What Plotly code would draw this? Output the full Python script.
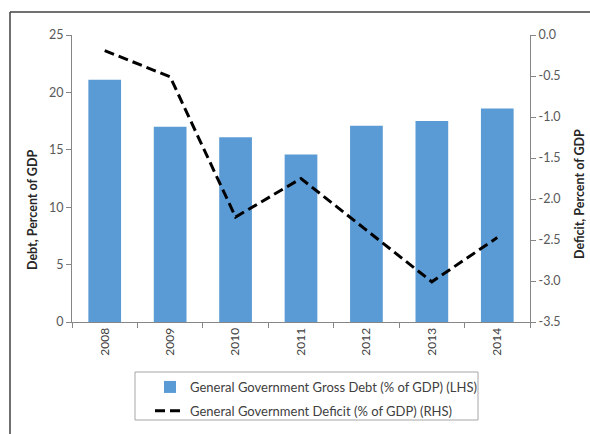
import plotly.graph_objects as go

years = ["2008", "2009", "2010", "2011", "2012", "2013", "2014"]
debt = [21.1, 17.0, 16.1, 14.6, 17.1, 17.5, 18.6]
deficit = [-0.19, -0.51, -2.22, -1.75, -2.38, -3.01, -2.47]
left_ticks = [0, 5, 10, 15, 20, 25]
right_tickvals = [0.0, -0.5, -1.0, -1.5, -2.0, -2.5, -3.0, -3.5]
right_ticktext = ["0.0", "-0.5", "-1.0", "-1.5", "-2.0", "-2.5", "-3.0", "-3.5"]

debt_name = "General Government Gross Debt (% of GDP) (LHS)"
deficit_name = "General Government Deficit (% of GDP) (RHS)"

W, H = 590, 434
L, R, T, B = 72, 60, 35, 112
pw, ph = W - L - R, H - T - B

def px_x(x):
    return (x - L) / pw

def px_y(y):
    return (H - B - y) / ph

fig = go.Figure()
fig.add_trace(go.Bar(x=years, y=debt, name=debt_name, marker_color="#5B9BD5",
                     marker_line_width=0, yaxis="y", legendgroup="a"))
fig.add_trace(go.Scatter(x=years, y=deficit, name=deficit_name, mode="lines",
                         line=dict(color="black", width=3, dash="10px,5px"), yaxis="y2",
                         legendgroup="b"))

font_fam = "Lato, 'Open Sans', sans-serif"
axcol = "#868686"
txtcol = "#595959"

fig.update_layout(
    width=W, height=H,
    margin=dict(l=L, r=R, t=T, b=B, autoexpand=False),
    paper_bgcolor="white", plot_bgcolor="white",
    font=dict(family=font_fam, size=11, color=txtcol),
    bargap=0.5,
    showlegend=True,
    legend=dict(x=px_x(150), y=px_y(372), xanchor="left", yanchor="top",
                bgcolor="rgba(0,0,0,0)", borderwidth=0,
                font=dict(size=13, color="#404040"), tracegroupgap=4),
    xaxis=dict(type="category", showline=True, linecolor=axcol, linewidth=1,
               ticks="outside", tickson="boundaries", ticklen=5, tickcolor=axcol,
               tickangle=-90, tickfont=dict(size=12, color="#404040"),
               showgrid=False, zeroline=False),
    yaxis=dict(range=[0, 25], tickvals=left_ticks, showline=True, linecolor=axcol, linewidth=1,
               ticks="outside", ticklen=5, tickcolor=axcol, showgrid=False, zeroline=False,
               tickfont=dict(size=12.5, color=txtcol)),
    yaxis2=dict(range=[-3.5, 0], tickvals=right_tickvals, ticktext=right_ticktext,
                overlaying="y", side="right",
                showline=True, linecolor=axcol, linewidth=1, ticks="outside", ticklen=5,
                tickcolor=axcol, showgrid=False, zeroline=False,
                tickfont=dict(size=12.5, color=txtcol)),
    shapes=[
        dict(type="line", xref="paper", yref="paper", x0=px_x(10), x1=px_x(10),
             y0=px_y(12), y1=px_y(434), line=dict(color="#404040", width=1.5)),
        dict(type="line", xref="paper", yref="paper", x0=px_x(10), x1=px_x(590),
             y0=px_y(12), y1=px_y(12), line=dict(color="#404040", width=1.5)),
        dict(type="rect", xref="paper", yref="paper", x0=px_x(135), x1=px_x(478),
             y0=px_y(372), y1=px_y(420), line=dict(color="#A6A6A6", width=1)),
    ],
    annotations=[
        dict(text="<b>Debt, Percent of GDP</b>", textangle=-90, xref="paper", yref="paper",
             x=px_x(32), y=px_y(210), xanchor="center", yanchor="middle", showarrow=False,
             font=dict(size=12.5, color="#262626")),
        dict(text="<b>Deficit, Percent of GDP</b>", textangle=-90, xref="paper", yref="paper",
             x=px_x(579), y=px_y(194), xanchor="center", yanchor="middle", showarrow=False,
             font=dict(size=12.5, color="#262626")),
    ],
)

fig.write_html("out.html", config={"displayModeBar": False},
               post_script="document.body.style.margin='0';document.body.style.overflow='hidden';")
